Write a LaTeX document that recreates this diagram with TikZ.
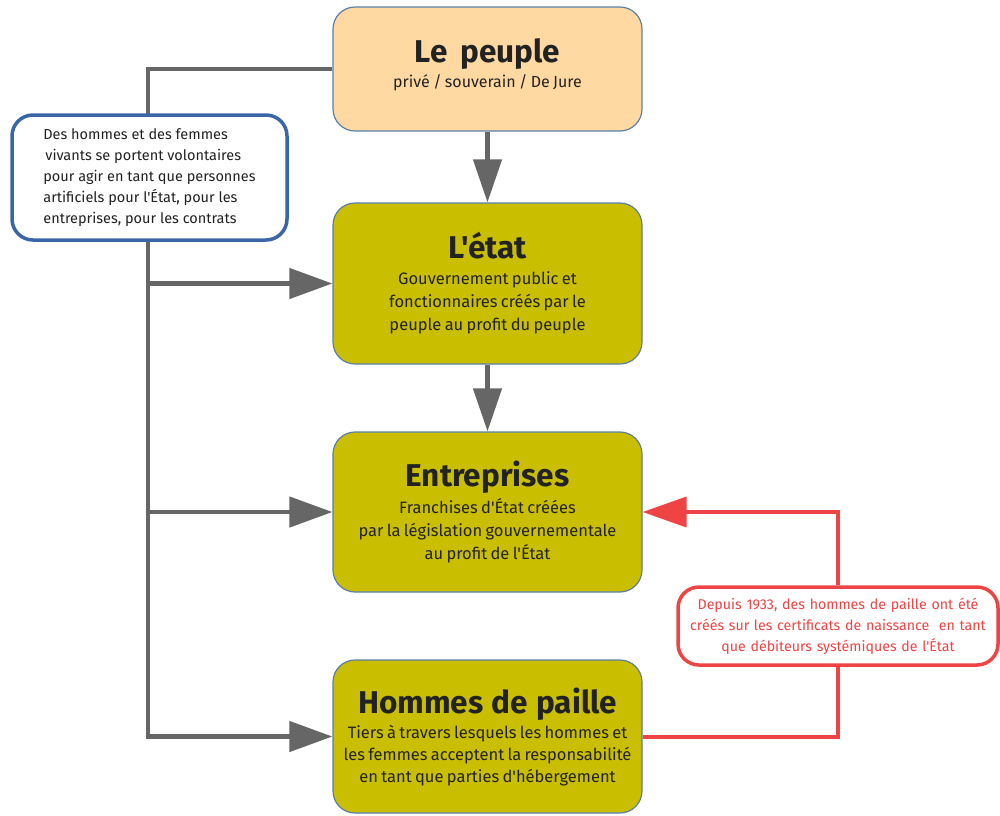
\documentclass[tikz,border=0pt]{standalone}
\usepackage{fontspec}
\newfontfamily\carl{Fira Sans}
\usetikzlibrary{arrows.meta}
\definecolor{peach}{HTML}{FFD9A1}
\definecolor{olivebox}{HTML}{C9BE00}
\definecolor{boxedge}{HTML}{5B7FA8}
\definecolor{blueedge}{HTML}{3A66A7}
\definecolor{lgray}{HTML}{666666}
\definecolor{lred}{HTML}{EE4444}
\definecolor{darktext}{HTML}{222222}
\newcommand\boxtitle{\fontsize{31.5}{31.5}\selectfont\bfseries\spaceskip=0.21em plus 0.05em\relax}
\newcommand\boxbody{\fontsize{16.5}{23}\selectfont}
\begin{document}
\begin{tikzpicture}[x=1pt,y=-1pt,font=\carl,
  mainbox/.style={draw=boxedge, line width=1.2pt, rounded corners=22pt,
    minimum width=309pt, text width=304pt, align=center, inner sep=0pt, text=darktext},
  peuplebox/.style={mainbox, fill=peach, minimum height=124pt},
  ybox/.style={mainbox, fill=olivebox},
  gline/.style={draw=lgray, line width=4.5pt},
  garrow/.style={gline, -{Triangle[length=43pt,width=30pt]}},
  garrowv/.style={gline, -{Triangle[length=43pt,width=28pt]}},
  rline/.style={draw=lred, line width=4pt},
  rarrow/.style={rline, -{Triangle[length=44pt,width=30pt]}},
  notebox/.style={fill=white, line width=3.5pt, rounded corners=21pt, inner sep=0pt}
]
\useasboundingbox (0,0) rectangle (1000,815);

\node[peuplebox] (peuple) at (487.5,69)
  {{\boxtitle Le peuple\par}\vspace{2pt}{\fontsize{16}{23}\selectfont privé / souverain / De Jure\par}\vspace{9pt}};
\node[ybox, minimum height=161pt] (etat) at (487.5,283.5)
  {{\boxtitle L'état\par}\vspace{3pt}{\boxbody Gouvernement public et\\fonctionnaires créés par le\\peuple au profit du peuple\par}};
\node[ybox, minimum height=160pt] (entre) at (487.5,512)
  {{\boxtitle Entreprises\par}\vspace{4pt}{\boxbody Franchises d'État créées\\par la législation gouvernementale\\au profit de l'État\par}};
\node[ybox, minimum height=153pt] (hommes) at (487.5,736.5)
  {{\boxtitle Hommes de paille\par}\vspace{3pt}{\fontsize{16.5}{22}\selectfont Tiers à travers lesquels les hommes et\\les femmes acceptent la responsabilité\\en tant que parties d'hébergement\par}};

\node[notebox, draw=lred, text=lred, minimum width=320pt, minimum height=78pt,
  text width=314pt, align=center, font=\carl\fontsize{14.2}{21}\selectfont] (redbox) at (838,626)
  {Depuis 1933, des hommes de paille ont été\\créés sur les certificats de naissance \ en tant\\que débiteurs systémiques de l'État};

\coordinate (trunkx) at (148,0);

\draw[garrow] (peuple.west) -- (peuple.west -| trunkx) -- (hommes.west -| trunkx) -- (hommes.west);
\draw[garrow] (etat.west -| trunkx) -- (etat.west);
\draw[garrow] (entre.west -| trunkx) -- (entre.west);
\draw[garrowv] (peuple.south) -- (etat.north);
\draw[garrowv] (etat.south) -- (entre.north);

\draw[rline] (hommes.east) -| (redbox.south);
\draw[rarrow] (redbox.north) |- (entre.east);

\node[notebox, draw=blueedge, text=darktext, minimum width=275pt, minimum height=125pt,
  align=left, font=\carl\fontsize{14.5}{21}\selectfont] (bluebox) at (149.5,177.5)
  {Des hommes et des femmes\\\hspace{2pt}vivants se portent volontaires\\pour agir en tant que personnes\\artificiels pour l'État, pour les\\entreprises, pour les contrats};
\end{tikzpicture}
\end{document}
